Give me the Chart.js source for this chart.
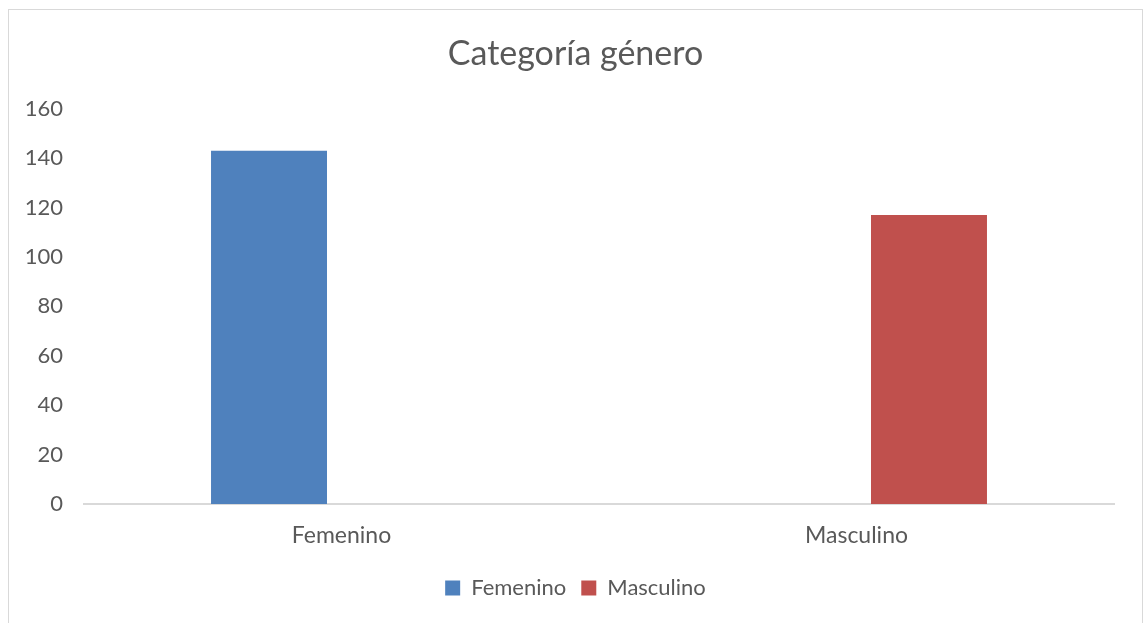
<!DOCTYPE html>
<html>
<head>
<meta charset="utf-8">
<script src="https://cdn.jsdelivr.net/npm/chart.js@4"></script>
<style>
    html, body { margin: 0; padding: 0; background: #fff; overflow: hidden; }
    #frame {
        position: absolute; left: 8px; top: 9px;
        width: 1133px; height: 620px;
        border: 1px solid #d9d9d9;
        border-bottom: none;
    }
    #chartGenero { display: block; }
</style>
</head>
<body>
<div id="frame"><canvas id="chartGenero" width="1133" height="614"></canvas></div>
<script>
// datos del gráfico
const categorias = ["Femenino", "Masculino"];
const femenino = [143, null];
const masculino = [null, 117];
const ticksY = [0, 20, 40, 60, 80, 100, 120, 140, 160];

const textColor = "#595959";
const fontName = "Lato, 'Open Sans', sans-serif";

const ctx = document.getElementById("chartGenero");
new Chart(ctx, {
    type: "bar",
    data: {
        labels: categorias,
        datasets: [{
            label: "Femenino",
            data: femenino,
            backgroundColor: "#4F81BD",
            barPercentage: 0.8,
            categoryPercentage: 0.563
        }, {
            label: "Masculino",
            data: masculino,
            backgroundColor: "#C0504D",
            barPercentage: 0.8,
            categoryPercentage: 0.563
        }]
    },
    options: {
        responsive: false,
        animation: false,
        layout: { padding: { left: 0, right: 0, top: 0, bottom: 15 } },
        plugins: {
            title: {
                display: true,
                text: "Categoría género",
                color: textColor,
                font: { family: fontName, size: 34, weight: "normal" },
                padding: { top: 24, bottom: 34 }
            },
            legend: {
                position: "bottom",
                labels: {
                    color: textColor,
                    font: { family: fontName, size: 22 },
                    boxWidth: 15,
                    boxHeight: 15,
                    padding: 15
                }
            },
            tooltip: { enabled: false }
        },
        scales: {
            x: {
                grid: { display: false, drawTicks: false },
                border: { display: true, color: "#d9d9d9", width: 2 },
                ticks: { color: textColor, font: { family: fontName, size: 23 }, padding: 18 },
                afterFit: function (axis) { axis.height = 58; }
            },
            y: {
                min: 0,
                max: ticksY[ticksY.length - 1],
                afterBuildTicks: function (axis) {
                    axis.ticks = ticksY.map(function (v) { return { value: v }; });
                },
                grid: { display: false, drawTicks: false },
                border: { display: false },
                ticks: { color: textColor, font: { family: fontName, size: 22 }, padding: 21 },
                afterFit: function (axis) { axis.width = 75; }
            },
            // margen derecho del área de trazado
            margen: {
                type: "linear",
                position: "right",
                display: true,
                grid: { display: false, drawTicks: false },
                border: { display: false },
                ticks: { display: false },
                afterFit: function (axis) { axis.width = 28; }
            }
        }
    }
});
</script>
</body>
</html>
